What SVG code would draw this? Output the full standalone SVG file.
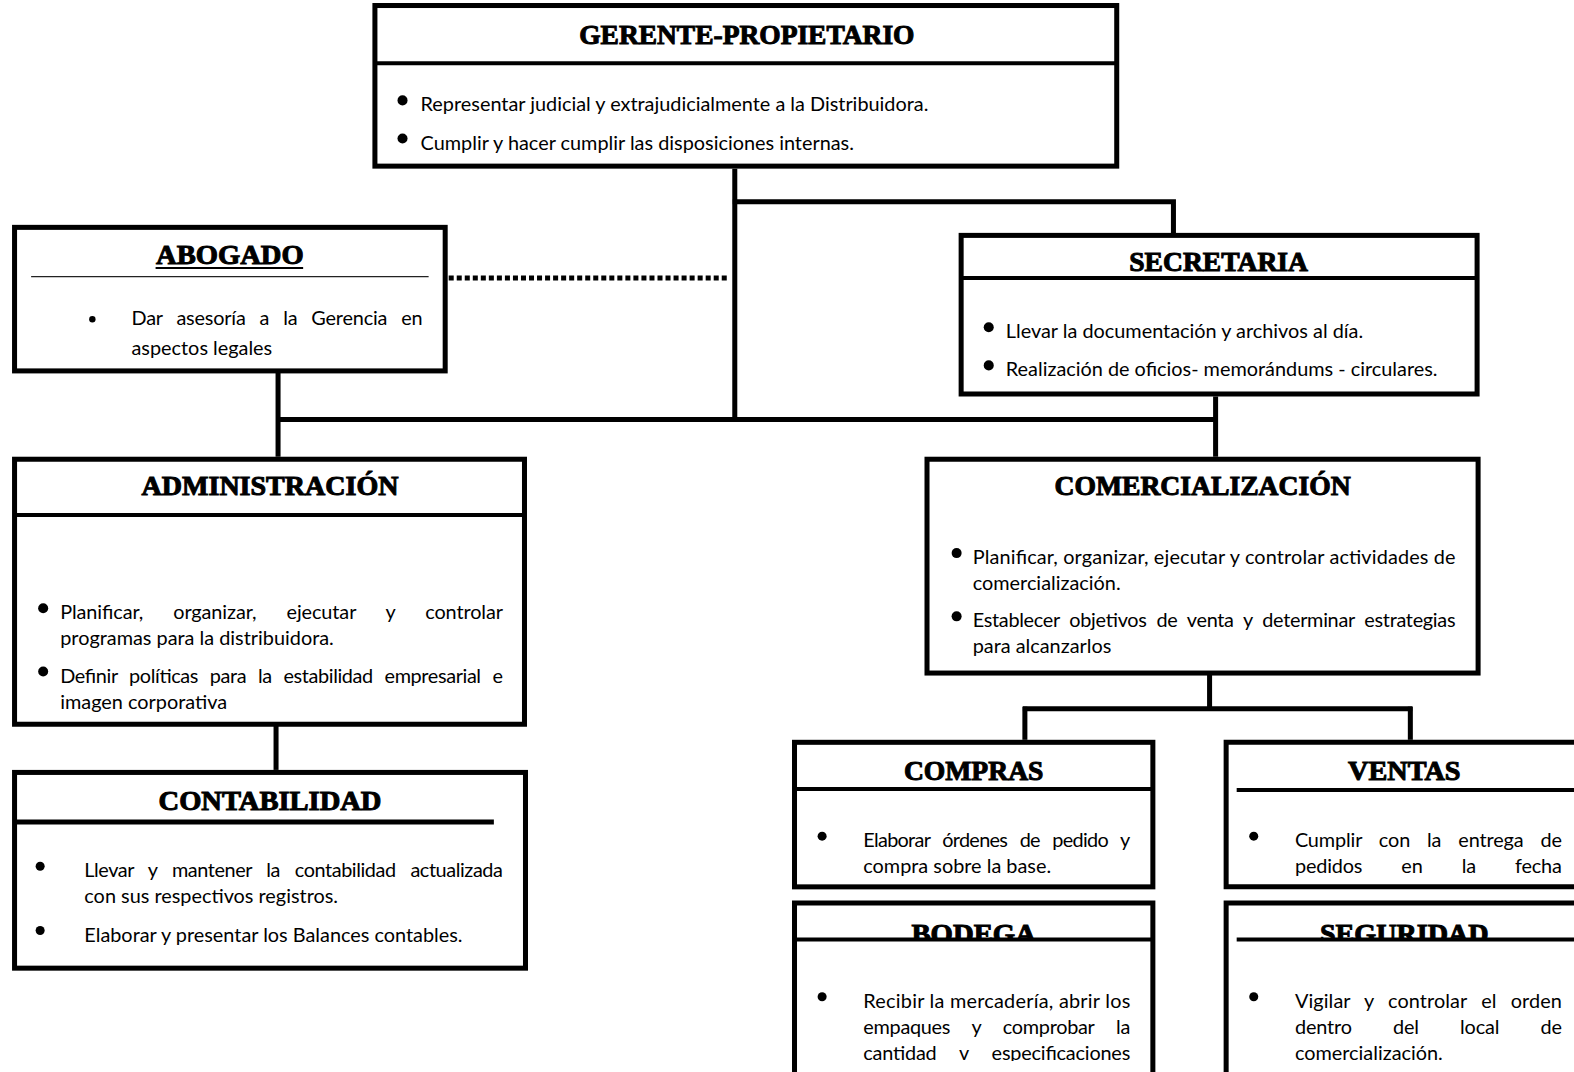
<svg xmlns="http://www.w3.org/2000/svg" width="1574" height="1072" viewBox="0 0 1574 1072">
  <style>
    .box { fill: #fff; stroke: #000; stroke-width: 5; }
    .sep { stroke: #000; stroke-width: 4; fill: none; }
    .link { stroke: #000; stroke-width: 5; fill: none; }
    .dotted { stroke: #000; stroke-width: 5; fill: none; stroke-dasharray: 5 3; }
    .title { font-family: "Liberation Serif", "DejaVu Serif", serif; font-weight: bold; font-size: 27px; fill: #000; stroke: #000; stroke-width: 1; text-anchor: middle; }
    .body { font-family: Lato, "Open Sans", "Liberation Sans", sans-serif; font-size: 19.8px; fill: #000; }
    .dot { fill: #000; }
  </style>
  <defs>
    <clipPath id="clipBodega"><rect x="790" y="916" width="360" height="20"/></clipPath>
    <clipPath id="clipSeguridad"><rect x="1220" y="916" width="354" height="20"/></clipPath>
    <clipPath id="clipBottom"><rect x="0" y="0" width="1574" height="1057"/></clipPath>
  </defs>
  <rect width="1574" height="1072" fill="#fff"/>

  <g transform="scale(1.0038)">
  <!-- connectors -->
  <g id="connectors">
    <path class="link" d="M732,168 V420"/>
    <path class="link" d="M730,201 H1169 V232"/>
    <path class="dotted" d="M447,277 H727"/>
    <path class="link" d="M277,371 V455"/>
    <path class="link" d="M275,418 H1213"/>
    <path class="link" d="M1211,395 V455"/>
    <path class="link" d="M275,723 V767"/>
    <path class="link" d="M1205,672 V706"/>
    <path class="link" d="M1019,706 H1407"/>
    <path class="link" d="M1021,704 V737"/>
    <path class="link" d="M1405,704 V737"/>
  </g>

  <!-- GERENTE-PROPIETARIO -->
  <g id="gerente">
    <rect class="box" x="373.5" y="5.5" width="739" height="160"/>
    <line class="sep" x1="373" y1="63" x2="1113" y2="63"/>
    <text class="title" x="744" y="44" textLength="334" lengthAdjust="spacingAndGlyphs">GERENTE-PROPIETARIO</text>
    <circle class="dot" cx="401" cy="100" r="5"/>
    <text class="body" x="419" y="111">Representar judicial y extrajudicialmente a la Distribuidora.</text>
    <circle class="dot" cx="401" cy="138" r="5"/>
    <text class="body" x="419" y="149">Cumplir y hacer cumplir las disposiciones internas.</text>
  </g>

  <!-- ABOGADO -->
  <g id="abogado">
    <rect class="box" x="14.5" y="226.5" width="429" height="143"/>
    <text class="title" x="229" y="263" textLength="147" lengthAdjust="spacingAndGlyphs">ABOGADO</text>
    <line x1="155" y1="267" x2="302" y2="267" stroke="#000" stroke-width="2"/>
    <line x1="31" y1="275.5" x2="427" y2="275.5" stroke="#222" stroke-width="1.3"/>
    <circle class="dot" cx="92" cy="318" r="3.2"/>
    <text class="body" x="131" y="324" word-spacing="9" textLength="290" lengthAdjust="spacing">Dar asesoría a la Gerencia en</text>
    <text class="body" x="131" y="354">aspectos legales</text>
  </g>

  <!-- SECRETARIA -->
  <g id="secretaria">
    <rect class="box" x="957.5" y="234.5" width="514" height="158"/>
    <line class="sep" x1="957" y1="277" x2="1472" y2="277"/>
    <text class="title" x="1214" y="270" textLength="178" lengthAdjust="spacingAndGlyphs">SECRETARIA</text>
    <circle class="dot" cx="985" cy="326" r="5"/>
    <text class="body" x="1002" y="337">Llevar la documentación y archivos al día.</text>
    <circle class="dot" cx="985" cy="364" r="5"/>
    <text class="body" x="1002" y="375">Realización de oficios- memorándums - circulares.</text>
  </g>

  <!-- ADMINISTRACIÓN -->
  <g id="administracion">
    <rect class="box" x="14.5" y="457.5" width="508" height="264"/>
    <line class="sep" x1="14" y1="513" x2="523" y2="513"/>
    <text class="title" x="269" y="493" textLength="256" lengthAdjust="spacingAndGlyphs">ADMINISTRACIÓN</text>
    <circle class="dot" cx="43" cy="606" r="5"/>
    <text class="body" x="60" y="617" word-spacing="25" textLength="441" lengthAdjust="spacing">Planificar, organizar, ejecutar y controlar</text>
    <text class="body" x="60" y="643">programas para la distribuidora.</text>
    <circle class="dot" cx="43" cy="669" r="5"/>
    <text class="body" x="60" y="680" word-spacing="7" textLength="441" lengthAdjust="spacing">Definir políticas para la estabilidad empresarial e</text>
    <text class="body" x="60" y="706">imagen corporativa</text>
  </g>

  <!-- CONTABILIDAD -->
  <g id="contabilidad">
    <rect class="box" x="14.5" y="769.5" width="509" height="195"/>
    <text class="title" x="269" y="807" textLength="222" lengthAdjust="spacingAndGlyphs">CONTABILIDAD</text>
    <line x1="15" y1="819" x2="492" y2="819" stroke="#000" stroke-width="5"/>
    <circle class="dot" cx="40" cy="863" r="4.5"/>
    <text class="body" x="84" y="874" word-spacing="10" textLength="417" lengthAdjust="spacing">Llevar y mantener la contabilidad actualizada</text>
    <text class="body" x="84" y="900">con sus respectivos registros.</text>
    <circle class="dot" cx="40" cy="927" r="4.5"/>
    <text class="body" x="84" y="938">Elaborar y presentar los Balances contables.</text>
  </g>

  <!-- COMERCIALIZACIÓN -->
  <g id="comercializacion">
    <rect class="box" x="923.5" y="457.5" width="549" height="213"/>
    <text class="title" x="1198" y="493" textLength="295" lengthAdjust="spacingAndGlyphs">COMERCIALIZACIÓN</text>
    <circle class="dot" cx="953" cy="551" r="5"/>
    <text class="body" x="969" y="562" textLength="481" lengthAdjust="spacing">Planificar, organizar, ejecutar y controlar actividades de</text>
    <text class="body" x="969" y="588">comercialización.</text>
    <circle class="dot" cx="953" cy="614" r="5"/>
    <text class="body" x="969" y="625" word-spacing="5" textLength="481" lengthAdjust="spacing">Establecer objetivos de venta y determinar estrategias</text>
    <text class="body" x="969" y="651">para alcanzarlos</text>
  </g>

  <!-- COMPRAS -->
  <g id="compras">
    <rect class="box" x="791.5" y="739.5" width="357" height="144"/>
    <line class="sep" x1="791" y1="786" x2="1149" y2="786"/>
    <text class="title" x="970" y="777" textLength="139" lengthAdjust="spacingAndGlyphs">COMPRAS</text>
    <circle class="dot" cx="819" cy="833" r="4.5"/>
    <text class="body" x="860" y="844" word-spacing="8" textLength="266" lengthAdjust="spacing">Elaborar órdenes de pedido y</text>
    <text class="body" x="860" y="870">compra sobre la base.</text>
  </g>

  <!-- VENTAS -->
  <g id="ventas">
    <path class="box" d="M1576,739.5 H1221.5 V883.5 H1576"/>
    <line class="sep" x1="1232" y1="787" x2="1574" y2="787"/>
    <text class="title" x="1399" y="777" textLength="112" lengthAdjust="spacingAndGlyphs">VENTAS</text>
    <circle class="dot" cx="1249" cy="833" r="4.5"/>
    <text class="body" x="1290" y="844" word-spacing="12" textLength="266" lengthAdjust="spacing">Cumplir con la entrega de</text>
    <text class="body" x="1290" y="870" word-spacing="34" textLength="266" lengthAdjust="spacing">pedidos en la fecha</text>
  </g>

  <!-- BODEGA -->
  <g id="bodega">
    <path class="box" d="M791.5,1076 V899.5 H1148.5 V1076"/>
    <text class="title" x="970" y="939" textLength="124" lengthAdjust="spacingAndGlyphs" clip-path="url(#clipBodega)">BODEGA</text>
    <line class="sep" x1="791" y1="936" x2="1149" y2="936"/>
    <circle class="dot" cx="819" cy="993" r="4.5"/>
    <g clip-path="url(#clipBottom)">
      <text class="body" x="860" y="1004" textLength="266" lengthAdjust="spacing">Recibir la mercadería, abrir los</text>
      <text class="body" x="860" y="1030" word-spacing="17" textLength="266" lengthAdjust="spacing">empaques y comprobar la</text>
      <text class="body" x="860" y="1056" word-spacing="18" textLength="266" lengthAdjust="spacing">cantidad v especificaciones</text>
    </g>
  </g>

  <!-- SEGURIDAD -->
  <g id="seguridad">
    <path class="box" d="M1221.5,1076 V899.5 H1576"/>
    <text class="title" x="1399" y="939" textLength="168" lengthAdjust="spacingAndGlyphs" clip-path="url(#clipSeguridad)">SEGURIDAD</text>
    <line class="sep" x1="1232" y1="936" x2="1574" y2="936"/>
    <circle class="dot" cx="1249" cy="993" r="4.5"/>
    <text class="body" x="1290" y="1004" word-spacing="9" textLength="266" lengthAdjust="spacing">Vigilar y controlar el orden</text>
    <text class="body" x="1290" y="1030" word-spacing="36" textLength="266" lengthAdjust="spacing">dentro del local de</text>
    <text class="body" x="1290" y="1056">comercialización.</text>
  </g>
  </g>
</svg>
